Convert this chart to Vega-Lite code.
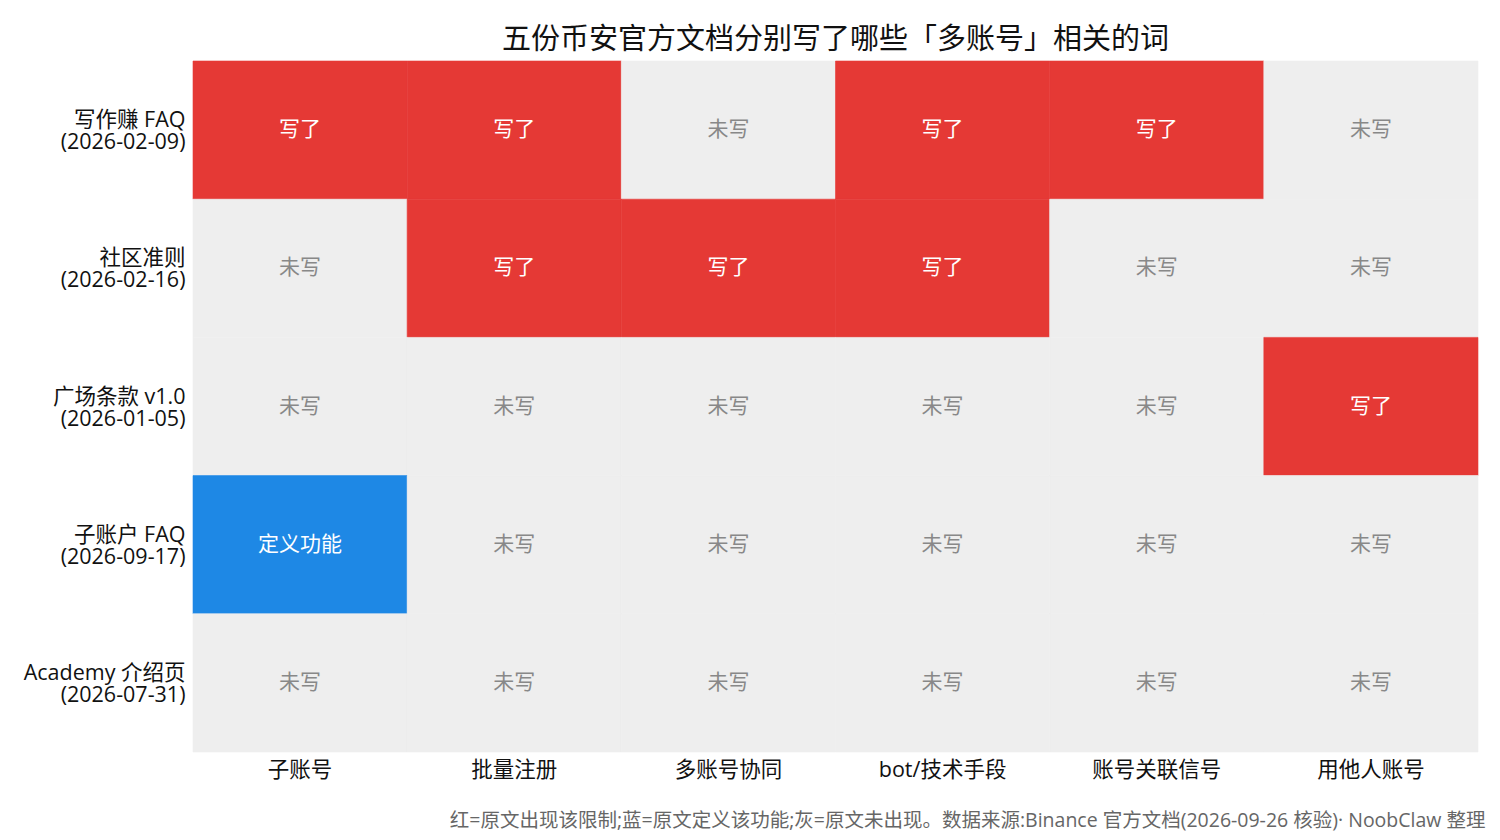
{
  "$schema": "https://vega.github.io/schema/vega-lite/v6.json",
  "width": 1285,
  "height": 691,
  "autosize": {"type": "none"},
  "padding": {"left": 193, "top": 61, "right": 22, "bottom": 88},
  "background": "white",
  "config": {
    "font": "Open Sans, Noto Sans CJK SC",
    "view": {"stroke": null}
  },
  "title": {
    "text": "五份币安官方文档分别写了哪些「多账号」相关的词",
    "fontSize": 29,
    "fontWeight": "normal",
    "color": "#111111",
    "anchor": "middle",
    "offset": 6
  },
  "data": {
    "values": [
      {"doc": "写作赚 FAQ\n(2026-02-09)", "term": "子账号", "status": "写了"},
      {"doc": "写作赚 FAQ\n(2026-02-09)", "term": "批量注册", "status": "写了"},
      {"doc": "写作赚 FAQ\n(2026-02-09)", "term": "多账号协同", "status": "未写"},
      {"doc": "写作赚 FAQ\n(2026-02-09)", "term": "bot/技术手段", "status": "写了"},
      {"doc": "写作赚 FAQ\n(2026-02-09)", "term": "账号关联信号", "status": "写了"},
      {"doc": "写作赚 FAQ\n(2026-02-09)", "term": "用他人账号", "status": "未写"},
      {"doc": "社区准则\n(2026-02-16)", "term": "子账号", "status": "未写"},
      {"doc": "社区准则\n(2026-02-16)", "term": "批量注册", "status": "写了"},
      {"doc": "社区准则\n(2026-02-16)", "term": "多账号协同", "status": "写了"},
      {"doc": "社区准则\n(2026-02-16)", "term": "bot/技术手段", "status": "写了"},
      {"doc": "社区准则\n(2026-02-16)", "term": "账号关联信号", "status": "未写"},
      {"doc": "社区准则\n(2026-02-16)", "term": "用他人账号", "status": "未写"},
      {"doc": "广场条款 v1.0\n(2026-01-05)", "term": "子账号", "status": "未写"},
      {"doc": "广场条款 v1.0\n(2026-01-05)", "term": "批量注册", "status": "未写"},
      {"doc": "广场条款 v1.0\n(2026-01-05)", "term": "多账号协同", "status": "未写"},
      {"doc": "广场条款 v1.0\n(2026-01-05)", "term": "bot/技术手段", "status": "未写"},
      {"doc": "广场条款 v1.0\n(2026-01-05)", "term": "账号关联信号", "status": "未写"},
      {"doc": "广场条款 v1.0\n(2026-01-05)", "term": "用他人账号", "status": "写了"},
      {"doc": "子账户 FAQ\n(2026-09-17)", "term": "子账号", "status": "定义功能"},
      {"doc": "子账户 FAQ\n(2026-09-17)", "term": "批量注册", "status": "未写"},
      {"doc": "子账户 FAQ\n(2026-09-17)", "term": "多账号协同", "status": "未写"},
      {"doc": "子账户 FAQ\n(2026-09-17)", "term": "bot/技术手段", "status": "未写"},
      {"doc": "子账户 FAQ\n(2026-09-17)", "term": "账号关联信号", "status": "未写"},
      {"doc": "子账户 FAQ\n(2026-09-17)", "term": "用他人账号", "status": "未写"},
      {"doc": "Academy 介绍页\n(2026-07-31)", "term": "子账号", "status": "未写"},
      {"doc": "Academy 介绍页\n(2026-07-31)", "term": "批量注册", "status": "未写"},
      {"doc": "Academy 介绍页\n(2026-07-31)", "term": "多账号协同", "status": "未写"},
      {"doc": "Academy 介绍页\n(2026-07-31)", "term": "bot/技术手段", "status": "未写"},
      {"doc": "Academy 介绍页\n(2026-07-31)", "term": "账号关联信号", "status": "未写"},
      {"doc": "Academy 介绍页\n(2026-07-31)", "term": "用他人账号", "status": "未写"}
    ]
  },
  "encoding": {
    "x": {
      "field": "term",
      "type": "nominal",
      "sort": null,
      "scale": {"paddingInner": 0, "paddingOuter": 0},
      "axis": {
        "orient": "bottom",
        "domain": false,
        "ticks": false,
        "labelAngle": 0,
        "labelFontSize": 21.5,
        "labelColor": "#111111",
        "labelPadding": 7,
        "title": "红=原文出现该限制;蓝=原文定义该功能;灰=原文未出现。数据来源:Binance 官方文档(2026-09-26 核验)· NoobClaw 整理",
        "titleFontSize": 19.5,
        "titleFontWeight": "normal",
        "titleColor": "#666666",
        "titleAnchor": "end",
        "titleAlign": "right",
        "titleX": 1292,
        "titleY": 68,
        "titleBaseline": "middle"
      }
    },
    "y": {
      "field": "doc",
      "type": "nominal",
      "sort": null,
      "scale": {"paddingInner": 0, "paddingOuter": 0},
      "axis": {
        "domain": false,
        "ticks": false,
        "title": null,
        "labelFontSize": 21.5,
        "labelColor": "#111111",
        "labelPadding": 8,
        "labelLineHeight": 22,
        "labelOffset": -9,
        "labelExpr": "split(datum.label, '\\n')"
      }
    }
  },
  "layer": [
    {
      "mark": {"type": "rect", "strokeWidth": 0.6},
      "encoding": {
        "color": {
          "field": "status",
          "type": "nominal",
          "scale": {"domain": ["写了", "未写", "定义功能"], "range": ["#e53935", "#eeeeee", "#1e88e5"]},
          "legend": null
        },
        "stroke": {
          "field": "status",
          "type": "nominal",
          "scale": {"domain": ["写了", "未写", "定义功能"], "range": ["#e53935", "#eeeeee", "#1e88e5"]},
          "legend": null
        }
      }
    },
    {
      "mark": {"type": "text", "fontSize": 21},
      "encoding": {
        "text": {"field": "status"},
        "color": {
          "condition": {"test": "datum.status === '未写'", "value": "#888888"},
          "value": "#ffffff"
        }
      }
    }
  ]
}
